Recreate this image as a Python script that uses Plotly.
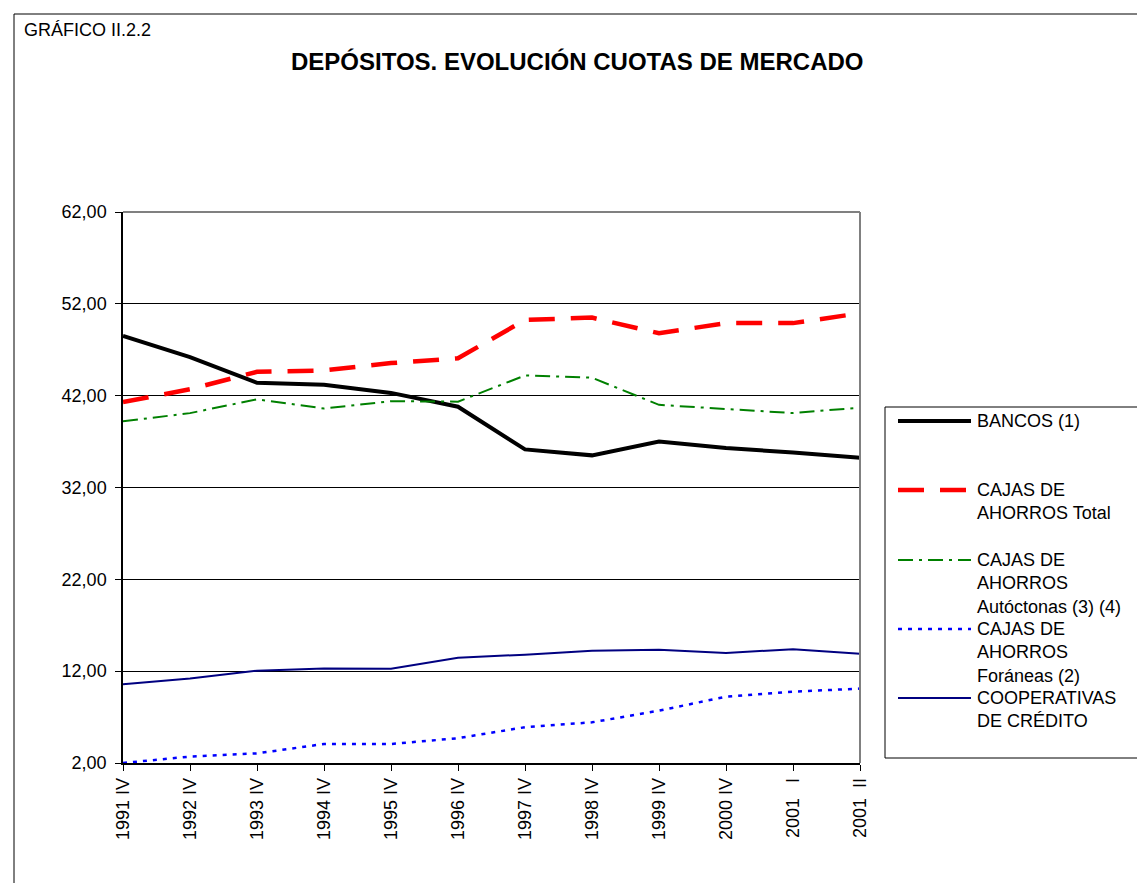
import plotly.graph_objects as go

# ---------------- data ----------------
categorias = ["1991 IV", "1992 IV", "1993 IV", "1994 IV", "1995 IV", "1996 IV",
              "1997 IV", "1998 IV", "1999 IV", "2000 IV",
              "2001\u00a0\u00a0\u00a0I", "2001\u00a0\u00a0II"]

bancos = [48.5, 46.2, 43.4, 43.2, 42.3, 40.8, 36.15, 35.5, 37.0, 36.3, 35.8, 35.25]
cajas_total = [41.3, 42.7, 44.6, 44.75, 45.55, 46.07, 50.24, 50.5, 48.8, 49.9, 49.9, 50.97]
cajas_autoctonas = [39.2, 40.1, 41.6, 40.6, 41.4, 41.35, 44.2, 43.96, 41.0, 40.55, 40.1, 40.7]
cajas_foraneas = [2.0, 2.7, 3.05, 4.07, 4.07, 4.7, 5.9, 6.43, 7.7, 9.22, 9.77, 10.1]
cooperativas = [10.57, 11.2, 12.05, 12.3, 12.27, 13.47, 13.8, 14.23, 14.34, 13.98, 14.4, 13.9]

nombres = ["BANCOS (1)",
           "CAJAS DE<br>AHORROS Total",
           "CAJAS DE<br>AHORROS<br>Autóctonas (3) (4)",
           "CAJAS DE<br>AHORROS<br>Foráneas (2)",
           "COOPERATIVAS<br>DE CRÉDITO"]

titulo = "DEPÓSITOS. EVOLUCIÓN CUOTAS DE MERCADO"
etiqueta = "GRÁFICO II.2.2"

# ---------------- styles ----------------
series = [bancos, cajas_total, cajas_autoctonas, cajas_foraneas, cooperativas]
estilos = [
    dict(color="#000000", width=4, dash="solid"),
    dict(color="#FF0000", width=4.5, dash="26px,16px"),
    dict(color="#008000", width=2, dash="15px,6px,3px,6px"),
    dict(color="#0000FF", width=2.5, dash="4px,6px"),
    dict(color="#000080", width=2, dash="solid"),
]

W, H = 1137, 883
L, R, T, B = 123, 860, 212, 763   # plot area in pixels


def px(x):
    return (x - L) / (R - L)


def py(y):
    return (B - y) / (B - T)


fig = go.Figure()
for nombre, vals, st in zip(nombres, series, estilos):
    fig.add_trace(go.Scatter(
        x=categorias, y=vals, mode="lines", name=nombre.replace("<br>", " "),
        line=st, showlegend=False, hoverinfo="x+y"))

FONT = "Arial, Liberation Sans, sans-serif"

shapes = []
annotations = []

# outer frame
shapes.append(dict(type="rect", xref="paper", yref="paper",
                   x0=px(14), x1=px(1145), y0=py(895), y1=py(14),
                   line=dict(color="#000000", width=1), layer="below"))
# plot-area border (top and right, gray)
shapes.append(dict(type="line", xref="paper", yref="paper",
                   x0=0, x1=1, y0=1, y1=1, line=dict(color="#808080", width=2)))
shapes.append(dict(type="line", xref="paper", yref="paper",
                   x0=1, x1=1, y0=0, y1=1, line=dict(color="#808080", width=2)))

# legend box
shapes.append(dict(type="rect", xref="paper", yref="paper",
                   x0=px(885), x1=px(1145), y0=py(758), y1=py(407),
                   line=dict(color="#000000", width=1), fillcolor="white", layer="below"))

leg_y = [421, 490, 560, 629, 698]
for nombre, st, yy in zip(nombres, estilos, leg_y):
    shapes.append(dict(type="line", xref="paper", yref="paper",
                       x0=px(898), x1=px(971), y0=py(yy), y1=py(yy),
                       line=st))
    annotations.append(dict(xref="paper", yref="paper", x=px(975), y=py(yy - 12.5),
                            xanchor="left", yanchor="top", align="left",
                            text=nombre, showarrow=False,
                            font=dict(family=FONT, size=18, color="#000000")))

annotations.append(dict(xref="paper", yref="paper", x=px(577), y=py(61),
                        xanchor="center", yanchor="middle", text="<b>" + titulo + "</b>",
                        showarrow=False, font=dict(family=FONT, size=24, color="#000000")))
annotations.append(dict(xref="paper", yref="paper", x=px(22), y=py(30),
                        xanchor="left", yanchor="middle", text=etiqueta,
                        showarrow=False, font=dict(family=FONT, size=18, color="#000000")))

fig.update_layout(
    width=W, height=H,
    margin=dict(l=L, r=W - R, t=T, b=H - B, pad=0),
    paper_bgcolor="white", plot_bgcolor="white",
    separators=",.",
    showlegend=False,
    font=dict(family=FONT, size=18, color="#000000"),
    shapes=shapes, annotations=annotations,
    xaxis=dict(type="category", range=[0, len(categorias) - 1],
               showgrid=False, showline=True, linecolor="#000000", linewidth=1.5,
               ticks="outside", ticklen=6, tickcolor="#000000", tickwidth=1,
               tickangle=-90, tickfont=dict(family=FONT, size=18), zeroline=False),
    yaxis=dict(range=[2, 62], tick0=2, dtick=10, tickformat=".2f",
               showgrid=True, gridcolor="#000000", gridwidth=1,
               showline=True, linecolor="#000000", linewidth=1.5,
               ticks="outside", ticklen=6, tickcolor="#000000", tickwidth=1,
               ticklabelstandoff=5,
               tickfont=dict(family=FONT, size=18), zeroline=False),
)

fig.write_html("out.html",
               config={"displayModeBar": False},
               post_script="document.body.style.margin='0';document.body.style.overflow='hidden';")
